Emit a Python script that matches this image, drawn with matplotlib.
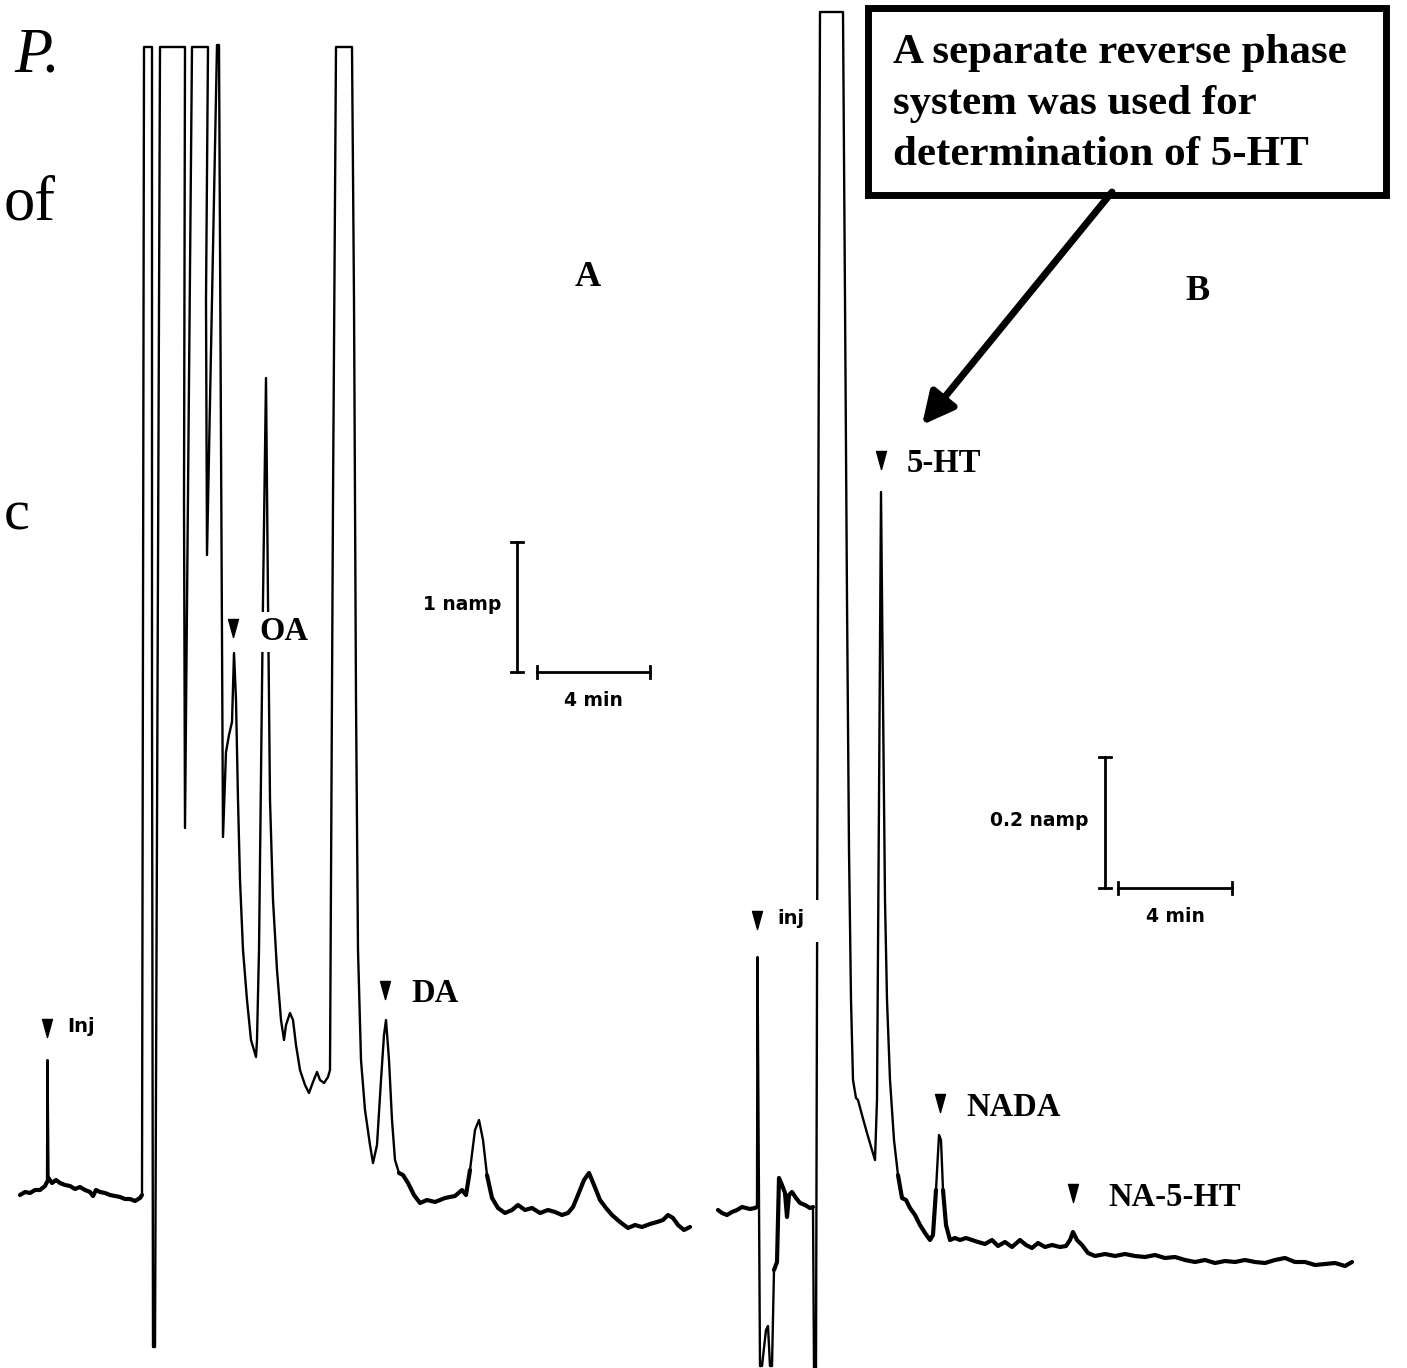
import numpy as np
import matplotlib
matplotlib.use("Agg")
import matplotlib.pyplot as plt
from matplotlib.patches import Rectangle, FancyArrowPatch
from matplotlib.path import Path

# trace of chromatogram A (recorder chart)
a_x = [20, 25, 30, 35, 40, 45, 47, 47.5, 48.5, 52, 56, 60, 65, 70, 75, 80, 85, 90, 93, 96,
       100, 105, 110, 115, 120, 125, 130, 135, 140, 142,
       144, 145, 152, 152, 153, 155, 160, 185, 184, 185, 192, 208, 206, 207, 217, 219, 223,
       226, 229, 232, 234, 236, 238, 240, 243, 247, 251, 254, 256, 257, 259, 263, 266,
       268, 270, 273, 277, 281, 284, 286, 290, 293, 296, 300, 305, 309, 313, 317, 320, 324,
       328, 330, 333, 336, 352, 354, 356, 358, 361, 365, 370, 373, 377, 381, 384, 386,
       389, 392, 395, 399, 403, 408, 414, 420, 427, 435, 445, 455, 462, 466, 470, 475,
       479, 483, 487, 492, 498, 505, 512, 518, 525, 532, 540, 548, 555, 562, 568, 573,
       578, 584, 589, 594, 600, 606, 612, 620, 628, 635, 642, 650, 657, 663, 668, 673,
       678, 684, 690]
a_y = [1195, 1192, 1193, 1190, 1190, 1186, 1182, 1060, 1178, 1183, 1180, 1183, 1185, 1186, 1189, 1187, 1190, 1192, 1196, 1190,
       1192, 1193, 1195, 1196, 1197, 1199, 1199, 1201, 1198, 1195,
       47, 47, 47, 700, 1347, 1347, 47, 47, 500, 828, 47, 47, 300, 555, 45, 45, 837,
       752, 735, 722, 653, 700, 800, 880, 950, 1000, 1040, 1050, 1057, 1040, 950, 600, 378,
       600, 800, 900, 970, 1020, 1040, 1025, 1013, 1020, 1045, 1070, 1085, 1093, 1082, 1072, 1080, 1083,
       1077, 1070, 500, 47, 47, 300, 700, 950, 1060, 1110, 1145, 1163, 1145, 1080, 1035, 1020,
       1060, 1120, 1160, 1173, 1175, 1183, 1195, 1203, 1200, 1202, 1198, 1196, 1190, 1195, 1170, 1130,
       1120, 1140, 1175, 1198, 1208, 1213, 1210, 1205, 1210, 1208, 1213, 1210, 1212, 1215, 1213, 1207,
       1195, 1180, 1173, 1185, 1200, 1208, 1215, 1222, 1228, 1225, 1227, 1224, 1222, 1220, 1215, 1218,
       1225, 1230, 1227]

# trace of chromatogram B
b_x = [718, 722, 727, 732, 737, 742, 746, 750, 755, 757, 757.5, 760, 762, 766, 768, 770, 772,
       774, 777, 779, 782, 785, 787, 789, 792, 796, 800, 805, 810, 813, 814, 816, 818, 820,
       843, 845, 847, 849, 851, 853, 856, 858, 862, 867, 872, 875, 877, 879, 881, 883, 885,
       887, 890, 894, 898, 902, 906, 910, 915, 920, 925, 930, 933, 936, 939, 941, 943, 946,
       950, 955, 960, 966, 972, 978, 985, 992, 998, 1005, 1012, 1020, 1026, 1032, 1038,
       1045, 1052, 1060, 1066, 1070, 1073, 1077, 1082, 1088, 1095, 1105, 1115, 1125, 1135,
       1145, 1155, 1165, 1175, 1185, 1195, 1205, 1215, 1225, 1235, 1245, 1255, 1265, 1275,
       1285, 1295, 1305, 1315, 1325, 1335, 1345, 1352]
b_y = [1210, 1213, 1215, 1212, 1210, 1207, 1208, 1209, 1208, 1207, 957, 1366, 1366, 1330, 1326, 1366, 1366,
       1270, 1262, 1178, 1185, 1193, 1217, 1195, 1192, 1198, 1203, 1205, 1208, 1207, 1368, 1368, 600, 12,
       12, 300, 600, 850, 1000, 1080, 1098, 1100, 1115, 1133, 1150, 1160, 1100, 800, 492, 700, 900,
       1000, 1080, 1140, 1175, 1198, 1200, 1208, 1215, 1225, 1233, 1240, 1235, 1190, 1135, 1140, 1190, 1225,
       1240, 1238, 1240, 1238, 1240, 1242, 1244, 1240, 1246, 1242, 1247, 1240, 1245, 1248, 1243,
       1247, 1245, 1247, 1246, 1240, 1232, 1240, 1245, 1253, 1256, 1254, 1256, 1254, 1256,
       1257, 1255, 1258, 1257, 1260, 1262, 1260, 1263, 1261, 1262, 1260, 1262, 1263, 1260,
       1258, 1262, 1262, 1265, 1264, 1263, 1266, 1262]

# peak markers: label, marker x, marker y
peak_names = ["Inj", "OA", "DA", "inj", "5-HT", "NADA", "NA-5-HT"]
peak_x = [47, 233, 385, 757, 881, 940, 1073]
peak_y = [1028, 628, 990, 920, 460, 1103, 1193]

fig = plt.figure(figsize=(14.07, 13.68), dpi=100)
ax = fig.add_axes([0, 0, 1, 1])
ax.set_xlim(0, 1407)
ax.set_ylim(1368, 0)
ax.axis("off")

serif = "Liberation Serif"
sans = "DejaVu Sans"

for xs, ys in [(a_x, a_y), (b_x, b_y)]:
    xs = np.array(xs, dtype=float)
    ys = np.array(ys, dtype=float)
    ax.plot(xs, ys, color="black", lw=1.7, solid_joinstyle="round", zorder=2)
    # the baseline is drawn heavier on the recorder paper
    thick = np.ma.masked_where((ys < 1165) | (ys > 1290), ys)
    ax.plot(xs, thick, color="black", lw=3.0, solid_joinstyle="round",
            solid_capstyle="round", zorder=2)

tri = Path([(-0.55, 1), (0.55, 1), (0, -1), (-0.55, 1)],
           [Path.MOVETO, Path.LINETO, Path.LINETO, Path.CLOSEPOLY])
ax.plot(peak_x, peak_y, linestyle="none", marker=tri, markersize=13,
        color="black", zorder=4)

for name, x, y in zip(peak_names, peak_x, peak_y):
    if name.lower() == "inj":
        ax.text(x + 20, y - 2, name, fontsize=14, fontweight="bold", family=sans,
                va="center", ha="left", zorder=3,
                bbox=dict(facecolor="white", edgecolor="none", pad=2))
    else:
        dx = 35 if name == "NA-5-HT" else 26
        ax.text(x + dx, y + 4, name, fontsize=23.5, fontweight="bold", family=serif,
                va="center", ha="left", zorder=3,
                bbox=dict(facecolor="white", edgecolor="none", pad=3))

# gap in the trace where the B "inj" label sits
ax.add_patch(Rectangle((812, 900), 8, 42, facecolor="white", edgecolor="none", zorder=3))

# panel letters
ax.text(588, 278, "A", fontsize=26, fontweight="bold", family=serif, ha="center", va="center")
ax.text(1197, 292, "B", fontsize=26, fontweight="bold", family=serif, ha="center", va="center")

# scale bars
def scale_bar(xv, y0, y1, x0, x1, amp_label, cap=6):
    ax.plot([xv, xv], [y0, y1], color="black", lw=2)
    ax.plot([xv - cap, xv + cap], [y0, y0], color="black", lw=2)
    ax.plot([xv - cap, xv + cap], [y1, y1], color="black", lw=2)
    ax.plot([x0, x1], [y1, y1], color="black", lw=2)
    ax.plot([x0, x0], [y1 - cap, y1 + cap], color="black", lw=2)
    ax.plot([x1, x1], [y1 - cap, y1 + cap], color="black", lw=2)
    ax.text(xv - 16, (y0 + y1) / 2 - 2, amp_label, fontsize=13.5, fontweight="bold",
            family=sans, ha="right", va="center")
    ax.text((x0 + x1) / 2, y1 + 28, "4 min", fontsize=13.5, fontweight="bold",
            family=sans, ha="center", va="center")

scale_bar(517, 542, 672, 537, 650, "1 namp")
scale_bar(1105, 757, 888, 1118, 1232, "0.2 namp")

# cropped text of the neighbouring page
ax.text(14, 56, "P.", fontsize=45, fontstyle="italic", family=serif, ha="left", va="center")
ax.text(4, 205, "of", fontsize=45, family=serif, ha="left", va="center")
ax.text(4, 515, "c", fontsize=42, family=serif, ha="left", va="center")

# callout box with arrow
ax.add_patch(Rectangle((868, 8), 518, 187, facecolor="white", edgecolor="black",
                       lw=5, zorder=5))
box_lines = ["A separate reverse phase", "system was used for", "determination of 5-HT"]
for i, line in enumerate(box_lines):
    ax.text(893, 63 + 51 * i, line, fontsize=31, fontweight="bold", family=serif,
            ha="left", va="baseline", zorder=6)

arrow = FancyArrowPatch((1112, 192), (922, 425), arrowstyle="-|>", mutation_scale=48,
                        lw=5, color="black", shrinkA=0, shrinkB=0, zorder=5)
ax.add_patch(arrow)

fig.savefig("out.png", dpi=100, facecolor="white")
